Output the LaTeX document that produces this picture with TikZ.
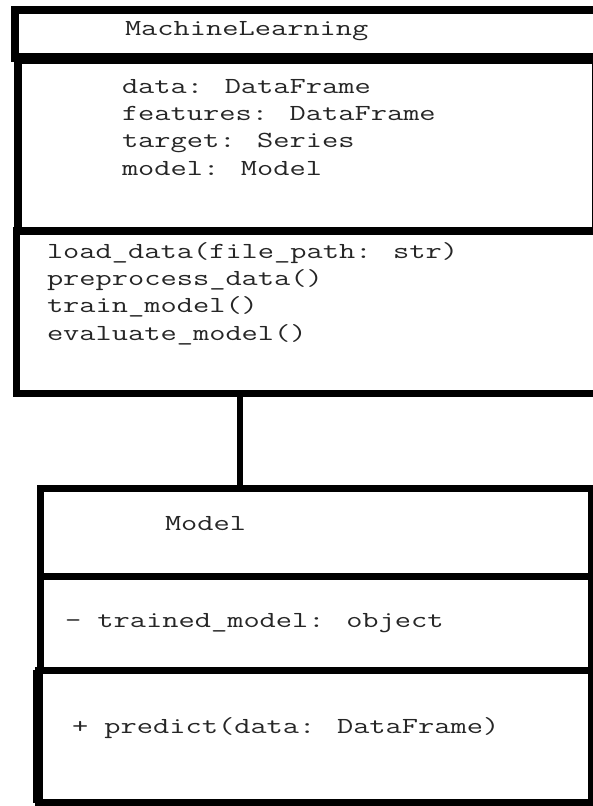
\documentclass[tikz,border=0pt]{standalone}
\usepackage{fontspec}
\newfontfamily\umlfont[FakeStretch=1.37]{Latin Modern Mono}
\begin{document}
\begin{tikzpicture}[x=1pt,y=-1pt,
  box/.style={draw=black, line width=#1, inner sep=0pt, outer sep=0pt, anchor=north west, rectangle},
  box/.default=8pt,
  txt/.style={anchor=base west, inner sep=0pt, outer sep=0pt, text=black!85, font=\umlfont\fontsize{23}{26}\selectfont},
  conn/.style={draw=black, line width=6pt}]
\useasboundingbox (0,0) rectangle (593,806);
\clip (0,0) rectangle (593,806);
\fill[white] (0,0) rectangle (593,806);

% MachineLearning class
\node[box=8pt, minimum width=583pt, minimum height=48pt] (mlhead) at (15,10) {};
\node[box=8pt, minimum width=578pt, minimum height=172.5pt] (mlattr) at (18,58) {};
\draw[line width=11pt] (mlattr.north west) -- (mlattr.north east);
\node[box=7pt, minimum width=580pt, minimum height=163pt] (mlmeth) at (16,230.5) {};

\node[txt] (mlname) at (125,35) {MachineLearning};
\node[txt] (a1) at (122,93) {data: DataFrame};
\node[txt] (a2) at (122,120) {features: DataFrame};
\node[txt] (a3) at (122,147) {target: Series};
\node[txt] (a4) at (122,175) {model: Model};
\node[txt] (m1) at (47,258) {load\_data(file\_path: str)};
\node[txt] (m2) at (47,285) {preprocess\_data()};
\node[txt] (m3) at (47,312) {train\_model()};
\node[txt] (m4) at (47,340) {evaluate\_model()};

% Model class
\node[box=7pt, minimum width=551pt, minimum height=88pt] (mdhead) at (40,488.5) {};
\node[box=7pt, minimum width=551pt, minimum height=93.5pt] (mdattr) at (40,576.5) {};
\node[box=7pt, minimum width=553pt, minimum height=132.5pt] (mdmeth) at (38,670) {};
\draw[line width=10pt] (mdmeth.north west) -- (mdmeth.south west);

\node[txt] (mdname) at (165,530) {Model};
\node[txt] (ma1) at (65,627) {- trained\_model: object};
\node[txt] (mm1) at (72,733) {+ predict(data: DataFrame)};

% connector
\coordinate (cx) at (240,0);
\draw[conn] (mlmeth.south -| cx) -- (mdhead.north -| cx);
\end{tikzpicture}
\end{document}
